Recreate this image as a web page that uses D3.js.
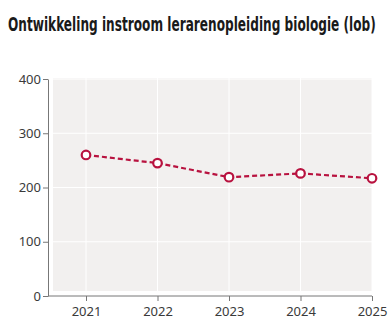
<!DOCTYPE html>
<html>
<head>
<meta charset="utf-8">
<script src="https://cdn.jsdelivr.net/npm/d3@7"></script>
<style>
  body { margin: 0; background: #fff; }
  #chart { width: 392px; height: 332px; }
</style>
</head>
<body>
<div id="chart"></div>
<script>
// instroom per jaar
const years = [2021, 2022, 2023, 2024, 2025];
const instroom = [260, 245, 219, 226, 217];
const yTicks = [0, 100, 200, 300, 400];
const title = "Ontwikkeling instroom lerarenopleiding biologie (lob)";

const width = 392, height = 332;
const margin = {top: 79, right: 20, bottom: 36, left: 48};

const svg = d3.select("#chart").append("svg")
    .attr("width", width)
    .attr("height", height);

// title: condensed bold, squeezed horizontally to run from x=8 to about x=376
const titleText = svg.append("text")
    .attr("fill", "#1a1a1a")
    .attr("font-family", "'Liberation Sans Narrow', 'DejaVu Sans Condensed', sans-serif")
    .attr("font-weight", "bold")
    .attr("font-size", 19)
    .text(title);

const titleLen = titleText.node().getComputedTextLength();
titleText.attr("transform", `translate(8,31) scale(${Math.min(1, 368 / titleLen)},1)`);

const x = d3.scalePoint()
    .domain(years)
    .range([86, width - margin.right]);

const y = d3.scaleLinear()
    .domain([0, 400])
    .range([height - margin.bottom, margin.top]);

// plot background, slightly inset from the axes
svg.append("rect")
    .attr("x", margin.left + 5)
    .attr("y", y(400) - 1)
    .attr("width", x(2025) - margin.left - 5)
    .attr("height", y(0) - 5 - y(400) + 1)
    .attr("fill", "#f2f0ef");

// grid lines
svg.append("g")
    .selectAll("line")
    .data(yTicks.slice(1))
    .join("line")
    .attr("x1", margin.left + 5)
    .attr("x2", x(2025))
    .attr("y1", d => y(d))
    .attr("y2", d => y(d))
    .attr("stroke", "#fff")
    .attr("stroke-width", 1);

svg.append("g")
    .selectAll("line")
    .data(years)
    .join("line")
    .attr("x1", d => x(d))
    .attr("x2", d => x(d))
    .attr("y1", y(400) - 1)
    .attr("y2", y(0) - 5)
    .attr("stroke", "#fff")
    .attr("stroke-width", 1);

// axes
const xAxis = svg.append("g")
    .attr("transform", `translate(0,${y(0)})`)
    .call(d3.axisBottom(x).tickSize(5).tickSizeOuter(0).tickPadding(6));

xAxis.select(".domain")
    .attr("d", `M${margin.left},0H${x(2025)}`);

const yAxis = svg.append("g")
    .attr("transform", `translate(${margin.left},0)`)
    .call(d3.axisLeft(y).tickValues(yTicks).tickSize(5).tickSizeOuter(0).tickPadding(2));

[xAxis, yAxis].forEach(g => {
    g.select(".domain").attr("stroke", "#777");
    g.selectAll(".tick line").attr("stroke", "#777");
    g.selectAll(".tick text")
        .attr("fill", "#3a3a3a")
        .attr("font-family", "'Noto Sans', sans-serif")
        .attr("font-size", 13);
});

// line + markers
const line = d3.line()
    .x((d, i) => x(years[i]))
    .y(d => y(d));

svg.append("path")
    .datum(instroom)
    .attr("d", line)
    .attr("fill", "none")
    .attr("stroke", "#b8123f")
    .attr("stroke-width", 2.2)
    .attr("stroke-dasharray", "5,3");

svg.append("g")
    .selectAll("circle")
    .data(instroom)
    .join("circle")
    .attr("cx", (d, i) => x(years[i]))
    .attr("cy", d => y(d))
    .attr("r", 4.3)
    .attr("fill", "#fff")
    .attr("stroke", "#b8123f")
    .attr("stroke-width", 2.2);
</script>
</body>
</html>
